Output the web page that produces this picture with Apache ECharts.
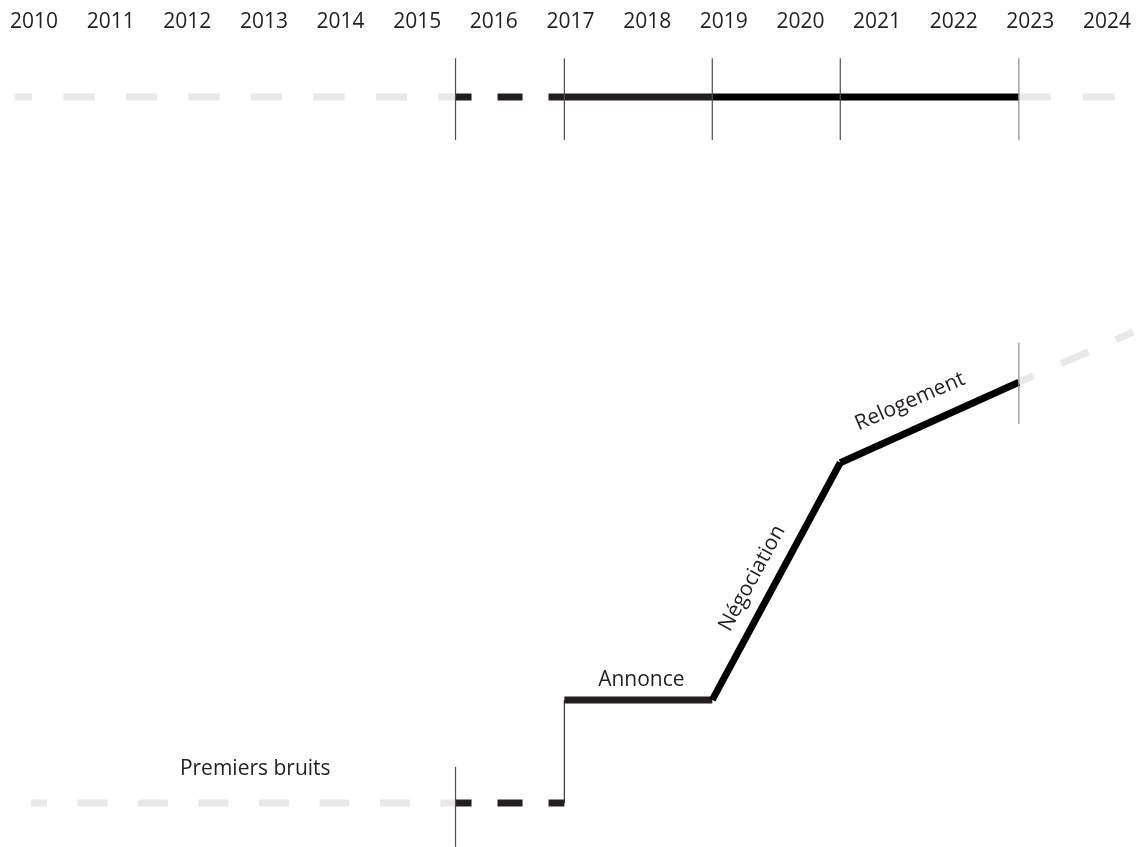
<!DOCTYPE html>
<html>
<head>
<meta charset="utf-8">
<script src="https://cdn.jsdelivr.net/npm/echarts@6/dist/echarts.min.js"></script>
<style>
  html, body { margin: 0; padding: 0; background: #fff; }
  #chart { width: 1141px; height: 847px; }
</style>
</head>
<body>
<div id="chart"></div>
<script>
// axis: one label per year
const tickYears = [2010, 2011, 2012, 2013, 2014, 2015, 2016, 2017, 2018, 2019, 2020, 2021, 2022, 2023, 2024];

// phases of the story (lower curve) — year at start/end, level at start/end
const phaseNames = ['Premiers bruits', 'Annonce', 'Négociation', 'Relogement'];
const phaseStartYear = [2015.5, 2016.92, 2018.85, 2020.52];
const phaseEndYear = [2016.92, 2018.85, 2020.52, 2022.85];
const phaseStartLevel = [0, 14.6, 14.6, 48.2];
const phaseEndLevel = [0, 14.6, 48.2, 59.6];

// grey "before" and "after" parts
const bottomLeadYear = 2009.96;
const topLeadYear = 2009.75;
const topTailYear = 2024.12;
const bottomTail = [2024.34, 66.7];

// level of the flat timeline at the top
const topLevel = 100;

// thin vertical markers
const topMarkerYears = [2015.5, 2016.92, 2018.85, 2020.52, 2022.85];
const topMarkerSpan = [93.9, 105.5];
const endMarkerSpan = [53.7, 65.2];
const startMarkerSpan = [-6.2, 5.1];

const GREY = '#e8e8e8';
const DARK = '#231f20';
const BLACK = '#000000';

const chart = echarts.init(document.getElementById('chart'));

// build one line series from points
const seg = (data, color, width, type, dashOffset) => ({
  type: 'line',
  data: data,
  symbol: 'none',
  clip: false,
  silent: true,
  animation: false,
  lineStyle: { color: color, width: width, type: type || 'solid', dashOffset: dashOffset || 0, cap: 'butt', join: 'miter' }
});

const series = [];
const last = phaseNames.length - 1;

// top timeline
series.push(seg([[topLeadYear, topLevel], [phaseStartYear[0], topLevel]], GREY, 7, [31.25, 31.25], 14));
series.push(seg([[phaseStartYear[0], topLevel], [phaseEndYear[0], topLevel]], DARK, 7, [25, 26], 9));
series.push(seg([[phaseStartYear[1], topLevel], [phaseEndYear[1], topLevel]], DARK, 7));
series.push(seg([[phaseStartYear[2], topLevel], [phaseEndYear[last], topLevel]], BLACK, 7));
series.push(seg([[phaseEndYear[last], topLevel], [topTailYear, topLevel]], GREY, 7, [32, 32], 0));

// lower curve
series.push(seg([[bottomLeadYear, 0], [phaseStartYear[0], 0]], GREY, 7, [30, 30.5], 14));
series.push(seg([[phaseStartYear[0], phaseStartLevel[0]], [phaseEndYear[0], phaseEndLevel[0]]], DARK, 7, [25, 26], 9));
series.push(seg([[phaseEndYear[0], phaseEndLevel[0]], [phaseStartYear[1], phaseStartLevel[1]]], '#333333', 1.2));
series.push(seg([[phaseStartYear[1], phaseStartLevel[1]], [phaseEndYear[1], phaseEndLevel[1]]], DARK, 7));
series.push(seg([[phaseStartYear[2], phaseStartLevel[2]], [phaseEndYear[2], phaseEndLevel[2]]], BLACK, 7));
series.push(seg([[phaseStartYear[3], phaseStartLevel[3]], [phaseEndYear[3], phaseEndLevel[3]]], BLACK, 7));
series.push(seg([[phaseEndYear[last], phaseEndLevel[last]], bottomTail], GREY, 7, [30, 30], 14));

// vertical markers
topMarkerYears.forEach((y, i) => {
  const c = i === topMarkerYears.length - 1 ? '#8a8a8a' : '#4d4d4d';
  series.push(seg([[y, topMarkerSpan[0]], [y, topMarkerSpan[1]]], c, 1.2));
});
series.push(seg([[phaseEndYear[last], endMarkerSpan[0]], [phaseEndYear[last], endMarkerSpan[1]]], '#8a8a8a', 1.2));
series.push(seg([[phaseStartYear[0], startMarkerSpan[0]], [phaseStartYear[0], startMarkerSpan[1]]], '#4d4d4d', 1.2));

// phase labels, placed from segment midpoints (offset given on screen, turned into the label's own frame)
const labelStyle = {
  'Premiers bruits': { offset: [12, -34], rotate: 0 },
  'Annonce': { offset: [3, -20], rotate: 0 },
  'Négociation': { offset: [-24, -3], rotate: 61.6 },
  'Relogement': { offset: [-19.5, -21], rotate: 23.5 }
};
const toLocal = (off, deg) => {
  const r = deg * Math.PI / 180;
  const c = Math.cos(r), s = Math.sin(r);
  return [off[0] * c - off[1] * s, off[0] * s + off[1] * c];
};
const labelData = phaseNames.map((name, i) => {
  let x = (phaseStartYear[i] + phaseEndYear[i]) / 2;
  let y = (phaseStartLevel[i] + phaseEndLevel[i]) / 2;
  if (i === 0) { x = (bottomLeadYear + phaseStartYear[0]) / 2; y = 0; }
  const st = labelStyle[name];
  return {
    name: name,
    value: [x, y],
    label: { offset: toLocal(st.offset, st.rotate), rotate: st.rotate }
  };
});
series.push({
  type: 'scatter',
  data: labelData,
  symbolSize: 1,
  itemStyle: { color: 'rgba(0,0,0,0)', opacity: 1 },
  clip: false,
  silent: true,
  animation: false,
  label: {
    show: true,
    position: 'inside',
    formatter: p => p.name,
    fontFamily: 'Open Sans',
    fontSize: 21,
    color: DARK,
    opacity: 1,
    textBorderWidth: 0,
    align: 'center',
    verticalAlign: 'middle'
  }
});

// one extra year on each side so that the grey ends stay inside the axis range
const yearPx = 76.64;

const option = {
  backgroundColor: '#ffffff',
  animation: false,
  grid: {
    left: 34 - yearPx, right: 34 - yearPx, top: 97, bottom: 44,
    containLabel: false,
    outerBoundsMode: 'none'
  },
  xAxis: {
    type: 'value',
    position: 'top',
    min: tickYears[0] - 1,
    max: tickYears[tickYears.length - 1] + 1,
    interval: 1,
    axisLine: { show: false },
    axisTick: { show: false },
    splitLine: { show: false },
    axisLabel: {
      margin: 64,
      fontFamily: 'Open Sans',
      fontSize: 21,
      color: DARK,
      formatter: v => (tickYears.indexOf(v) >= 0 ? String(v) : '')
    }
  },
  yAxis: {
    type: 'value',
    min: 0,
    max: 100,
    show: false
  },
  series: series
};

chart.setOption(option);
</script>
</body>
</html>
